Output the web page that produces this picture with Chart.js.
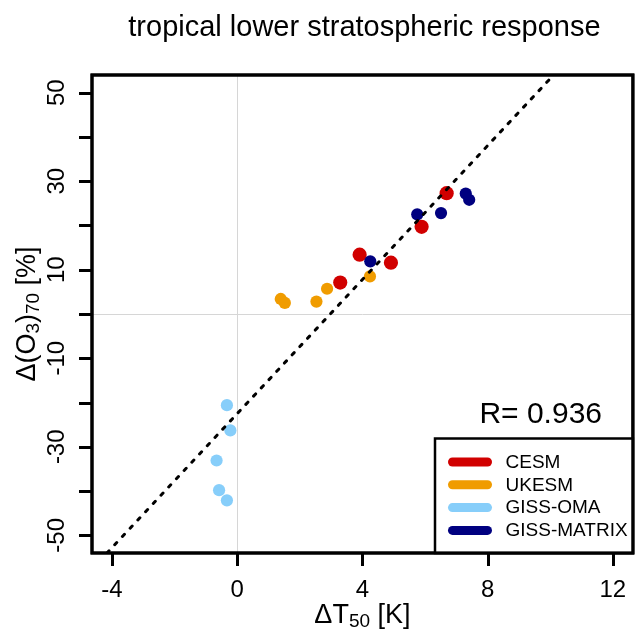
<!DOCTYPE html>
<html>
<head>
<meta charset="utf-8">
<script src="https://cdn.jsdelivr.net/npm/chart.js@4.4.1/dist/chart.umd.min.js"></script>
<style>
  html, body { margin: 0; padding: 0; background: #fff; }
  #wrap { width: 640px; height: 629px; }
</style>
</head>
<body>
<div id="wrap"><canvas id="chart" width="640" height="629"></canvas></div>
<script>
// values
const cesmX = [3.29, 3.91, 4.91, 5.89, 6.69];
const cesmY = [7.1, 13.4, 11.6, 19.7, 27.3];
const ukesmX = [1.39, 1.52, 2.53, 2.87, 4.24];
const ukesmY = [3.4, 2.5, 2.8, 5.7, 8.5];
const omaX = [-0.33, -0.22, -0.66, -0.58, -0.33];
const omaY = [-20.6, -26.3, -33.1, -39.8, -42.1];
const matrixX = [4.25, 5.75, 6.51, 7.30, 7.41];
const matrixY = [11.9, 22.5, 22.8, 27.2, 25.8];

const models = ['CESM', 'UKESM', 'GISS-OMA', 'GISS-MATRIX'];
const modelColors = ['#D10000', '#F09C00', '#87CEFA', '#000080'];

// regression fit
const fitSlope = 7.57;
const fitIntercept = -22.5;
const corrR = '0.936';

const xTicks = [-4, 0, 4, 8, 12];
const yTicks = [-50, -40, -30, -20, -10, 0, 10, 20, 30, 40, 50];
const yLabels = [-50, -30, -10, 10, 30, 50];
const xLimits = [-4.64, 12.64];
const yLimits = [-54, 54];

const FONT = '"Liberation Sans", Arial, Helvetica, sans-serif';

const toPoints = (xs, ys) => xs.map((v, i) => ({ x: v, y: ys[i] }));

const fitLine = yLimits.map(v => ({ x: (v - fitIntercept) / fitSlope, y: v }));

const seriesX = [cesmX, ukesmX, omaX, matrixX];
const seriesY = [cesmY, ukesmY, omaY, matrixY];

const datasets = models.map((name, i) => ({
    label: name,
    data: toPoints(seriesX[i], seriesY[i]),
    backgroundColor: modelColors[i],
    borderWidth: 0,
    pointRadius: i === 0 ? 7.1 : 6.1,
    order: 4 - i
}));

datasets.push({
    type: 'line',
    label: 'fit',
    data: fitLine,
    borderColor: '#000',
    borderWidth: 3,
    borderDash: [3, 8.3],
    borderCapStyle: 'round',
    pointRadius: 0,
    fill: false,
    order: 0
});

// draw a piece of text that has subscripts, parts = [[text, isSub], ...]
function drawMathText(ctx, parts, x, y, size, subSize, subShift) {
    const widths = parts.map(p => {
        ctx.font = (p[1] ? subSize : size) + 'px ' + FONT;
        return ctx.measureText(p[0]).width;
    });
    const total = widths.reduce((a, b) => a + b, 0);
    let cx = x - total / 2;
    ctx.textAlign = 'left';
    ctx.textBaseline = 'alphabetic';
    parts.forEach((p, i) => {
        ctx.font = (p[1] ? subSize : size) + 'px ' + FONT;
        ctx.fillText(p[0], cx, p[1] ? y + subShift : y);
        cx += widths[i];
    });
}

const framePlugin = {
    id: 'framePlugin',
    afterDraw(chart) {
        const { ctx, chartArea: a, scales: { x, y } } = chart;
        ctx.save();
        ctx.fillStyle = '#000';
        ctx.strokeStyle = '#000';

        // axis ticks
        ctx.lineWidth = 3;
        ctx.lineCap = 'butt';
        ctx.beginPath();
        xTicks.forEach(v => {
            const px = Math.round(x.getPixelForValue(v)) + 0.5;
            ctx.moveTo(px, a.bottom);
            ctx.lineTo(px, a.bottom + 13);
        });
        yTicks.forEach(v => {
            const py = Math.round(y.getPixelForValue(v)) + 0.5;
            ctx.moveTo(a.left, py);
            ctx.lineTo(a.left - 13, py);
        });
        ctx.stroke();

        // box
        ctx.strokeRect(a.left, a.top, a.right - a.left, a.bottom - a.top);

        // tick labels
        ctx.font = '24px ' + FONT;
        ctx.textAlign = 'center';
        ctx.textBaseline = 'alphabetic';
        xTicks.forEach(v => {
            ctx.fillText(String(v), x.getPixelForValue(v), 597);
        });
        yLabels.forEach(v => {
            ctx.save();
            ctx.translate(63.5, y.getPixelForValue(v));
            ctx.rotate(-Math.PI / 2);
            ctx.fillText(String(v), 0, 0);
            ctx.restore();
        });

        // title
        ctx.font = '29px ' + FONT;
        ctx.textAlign = 'center';
        ctx.fillText('tropical lower stratospheric response', (a.left + a.right) / 2 + 2, 36);

        // axis titles
        drawMathText(ctx, [['\u0394T', false], ['50', true], [' [K]', false]],
            (a.left + a.right) / 2, 622.5, 27, 19, 4);
        ctx.save();
        ctx.translate(34.5, (a.top + a.bottom) / 2);
        ctx.rotate(-Math.PI / 2);
        drawMathText(ctx, [['\u0394(O', false], ['3', true], [')', false], ['70', true], [' [%]', false]],
            0, 0, 27, 19, 4);
        ctx.restore();

        // correlation
        ctx.font = '30px ' + FONT;
        ctx.textAlign = 'right';
        ctx.textBaseline = 'alphabetic';
        ctx.fillText('R= ' + corrR, 602, 423);

        // legend
        const lx = 435, ly = 438.5;
        ctx.fillStyle = '#fff';
        ctx.fillRect(lx, ly, a.right - lx, a.bottom - ly);
        ctx.lineWidth = 2.5;
        ctx.strokeRect(lx, ly, a.right - lx, a.bottom - ly);
        ctx.lineWidth = 3;
        ctx.strokeRect(a.left, a.top, a.right - a.left, a.bottom - a.top);
        models.forEach((name, i) => {
            const ry = 462 + i * 22.8;
            ctx.strokeStyle = modelColors[i];
            ctx.lineWidth = 9;
            ctx.lineCap = 'round';
            ctx.beginPath();
            ctx.moveTo(452.5, ry);
            ctx.lineTo(487.5, ry);
            ctx.stroke();
            ctx.fillStyle = '#000';
            ctx.font = '19px ' + FONT;
            ctx.textAlign = 'left';
            ctx.textBaseline = 'middle';
            ctx.fillText(name, 505.5, ry + 0.5);
        });
        ctx.restore();
    }
};

const zeroGrid = {
    color: c => (c.tick && c.tick.value === 0) ? '#d6d6d6' : 'rgba(0,0,0,0)',
    lineWidth: 1,
    drawTicks: false
};

new Chart(document.getElementById('chart').getContext('2d'), {
    type: 'scatter',
    data: { datasets: datasets },
    options: {
        responsive: false,
        animation: false,
        layout: { padding: { left: 92, right: 2, top: 75, bottom: 76 } },
        plugins: {
            legend: { display: false },
            tooltip: { enabled: false },
            title: { display: false }
        },
        scales: {
            x: {
                type: 'linear',
                min: xLimits[0],
                max: xLimits[1],
                afterBuildTicks: s => { s.ticks = xTicks.map(v => ({ value: v })); },
                afterFit: s => { s.height = 0; },
                grid: zeroGrid,
                border: { display: false },
                ticks: { display: false }
            },
            y: {
                type: 'linear',
                min: yLimits[0],
                max: yLimits[1],
                afterBuildTicks: s => { s.ticks = yTicks.map(v => ({ value: v })); },
                afterFit: s => { s.width = 0; },
                grid: zeroGrid,
                border: { display: false },
                ticks: { display: false }
            }
        }
    },
    plugins: [framePlugin]
});
</script>
</body>
</html>
